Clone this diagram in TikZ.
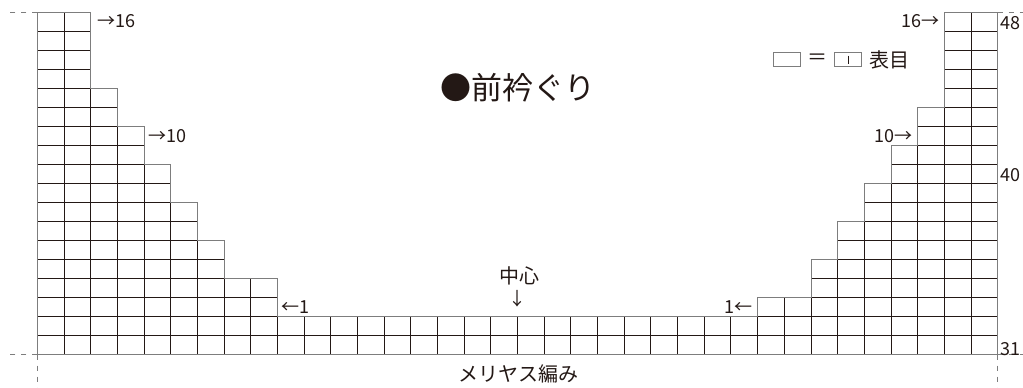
\documentclass[tikz,border=0pt]{standalone}
\usepackage{fontspec}
\setmainfont{Noto Sans CJK JP}
\definecolor{ink}{RGB}{35,24,21}
\definecolor{edge}{RGB}{125,125,125}
\begin{document}
\begin{tikzpicture}[x=1pt,y=-1pt,
  cell/.style={draw=ink,line width=0.9pt},
  outline/.style={draw=edge,line width=0.9pt,line join=miter},
  guide/.style={draw=edge,line width=0.9pt,dash pattern=on 5pt off 6pt},
  lbl/.style={inner sep=0pt,text=ink,font=\fontsize{18}{20}\selectfont},
  jp/.style={inner sep=0pt,text=ink,font=\fontsize{20}{22}\selectfont},
  titlestyle/.style={inner sep=0pt,text=ink,font=\fontsize{31}{34}\selectfont},
  keybox/.style={draw=edge,line width=0.9pt}
]
\useasboundingbox (0,0) rectangle (1023,388);
\def\X{37.3}\def\W{26.678}\def\Y{12}\def\H{19.03}
% grid cells
\foreach \i/\lc/\rc in {0/2/2,1/2/2,2/2/2,3/2/2,4/3/2,5/3/3,6/4/3,7/4/4,8/5/4,9/5/5,10/6/5,11/6/6,12/7/6,13/7/7,14/9/7,15/9/9,16/36/0,17/36/0}{
  \foreach \c in {1,...,\lc}{
    \draw[cell] ({\X+(\c-1)*\W},{\Y+\i*\H}) rectangle ++(\W,\H);
  }
  \ifnum\rc>0
    \foreach \c in {1,...,\rc}{
      \draw[cell] ({\X+(36-\c)*\W},{\Y+\i*\H}) rectangle ++(\W,\H);
    }
  \fi
}
% outline
\draw[outline] (\X,\Y) -- ({\X+2*\W},\Y) -- ({\X+2*\W},{\Y+4*\H}) -- ({\X+3*\W},{\Y+4*\H})
  -- ({\X+3*\W},{\Y+6*\H}) -- ({\X+4*\W},{\Y+6*\H}) -- ({\X+4*\W},{\Y+8*\H}) -- ({\X+5*\W},{\Y+8*\H})
  -- ({\X+5*\W},{\Y+10*\H}) -- ({\X+6*\W},{\Y+10*\H}) -- ({\X+6*\W},{\Y+12*\H}) -- ({\X+7*\W},{\Y+12*\H})
  -- ({\X+7*\W},{\Y+14*\H}) -- ({\X+9*\W},{\Y+14*\H}) -- ({\X+9*\W},{\Y+16*\H}) -- ({\X+27*\W},{\Y+16*\H})
  -- ({\X+27*\W},{\Y+15*\H}) -- ({\X+29*\W},{\Y+15*\H}) -- ({\X+29*\W},{\Y+13*\H}) -- ({\X+30*\W},{\Y+13*\H})
  -- ({\X+30*\W},{\Y+11*\H}) -- ({\X+31*\W},{\Y+11*\H}) -- ({\X+31*\W},{\Y+9*\H}) -- ({\X+32*\W},{\Y+9*\H})
  -- ({\X+32*\W},{\Y+7*\H}) -- ({\X+33*\W},{\Y+7*\H}) -- ({\X+33*\W},{\Y+5*\H}) -- ({\X+34*\W},{\Y+5*\H})
  -- ({\X+34*\W},\Y) -- ({\X+36*\W},\Y) -- ({\X+36*\W},{\Y+18*\H}) -- (\X,{\Y+18*\H}) -- cycle;
% guide dashes
\coordinate (tl) at (\X,\Y);
\coordinate (bl) at (\X,{\Y+18*\H});
\coordinate (tr) at ({\X+36*\W},\Y);
\coordinate (br) at ({\X+36*\W},{\Y+18*\H});
\draw[guide] (tl) -- ++(-29,0);
\draw[guide] (bl) -- ++(-29,0);
\draw[guide] (bl) -- ++(0,34);
\draw[guide] (tr) -- ++(25,0);
\draw[guide] (br) -- ++(25,0);
\draw[guide] (br) -- ++(0,34);
% row labels
\node[lbl,anchor=west] (l16) at (97,{\Y+0.5*\H}) {→16};
\node[lbl,anchor=west] (l10) at (148,{\Y+6.5*\H}) {→10};
\node[lbl,anchor=west] (l1) at (281,{\Y+15.5*\H}) {←1};
\node[lbl,anchor=east] (r16) at (940,{\Y+0.5*\H}) {16→};
\node[lbl,anchor=east] (r10) at (913,{\Y+6.5*\H}) {10→};
\node[lbl,anchor=east] (r1) at (753,{\Y+15.5*\H}) {1←};
\node[lbl,anchor=west] (n48) at (1000,{\Y+0.6*\H}) {48};
\node[lbl,anchor=west] (n40) at (1000,{\Y+8.55*\H}) {40};
\node[lbl,anchor=west] (n31) at (1000,{\Y+17.7*\H}) {31};
% title
\node[titlestyle] (title) at (518,88) {●前衿ぐり};
% legend
\draw[keybox] (773.5,52.5) rectangle (800.5,66.5);
\node[jp] (eq) at (817,59.5) {＝};
\draw[keybox] (834.5,52.5) rectangle (861.5,66.5);
\draw[draw=ink,line width=1pt] (848,55.5) -- (848,64);
\node[jp,anchor=west] (omote) at (869,60) {表目};
% centre
\node[jp] (center) at (519,276) {中心};
\node[lbl] (down) at (517,299) {↓};
\node[jp] (stst) at (518,374) {メリヤス編み};
\end{tikzpicture}
\end{document}
